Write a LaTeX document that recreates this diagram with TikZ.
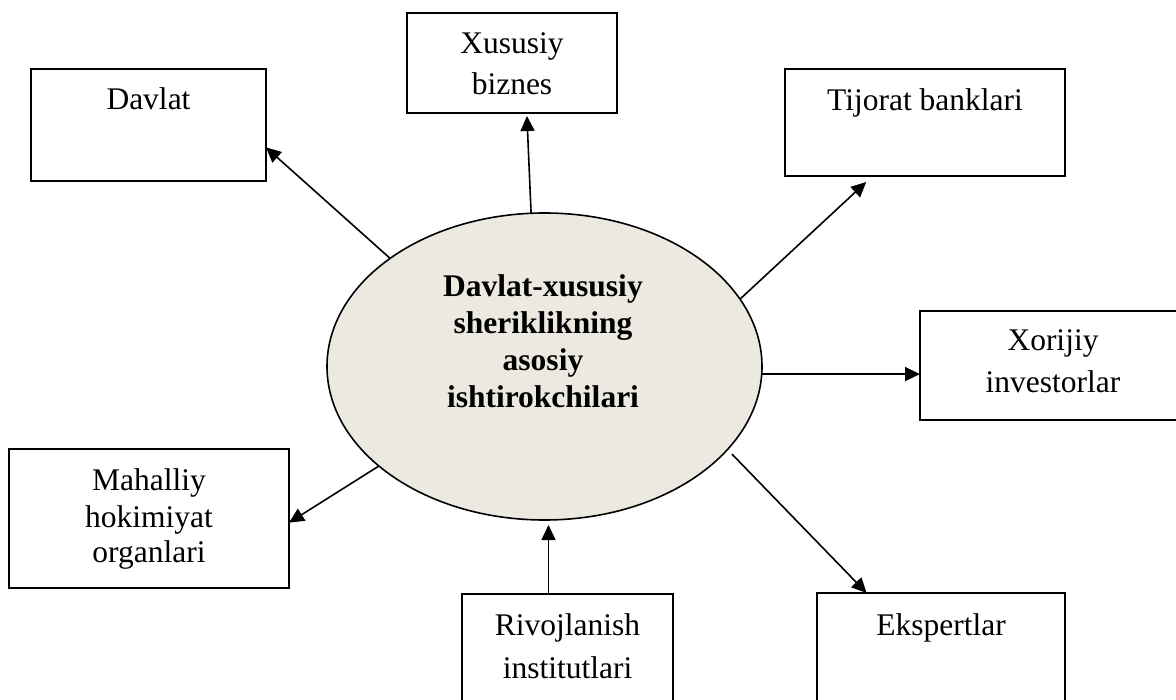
\documentclass[tikz,border=0pt]{standalone}
\usepackage{fontspec}
\setmainfont{Liberation Serif}
\usetikzlibrary{arrows.meta,calc,shapes.geometric}
\definecolor{ellfill}{RGB}{236,233,224}
\newcommand{\mylines}[1]{\begin{tabular}[t]{@{}c@{}}#1\end{tabular}}
\tikzset{
  box/.style={draw=black, line width=1.9pt, inner sep=0pt, outer sep=0pt, anchor=north west},
  lbl/.style={anchor=base, inner sep=0pt},
  arr/.style={draw=black, line width=1.6pt, -{Triangle[length=15pt,width=14pt]}},
}
\begin{document}
\begin{tikzpicture}[x=1pt,y=-1pt]
\useasboundingbox (0,0) rectangle (1176,700);
% boxes
\node[box, minimum width=235pt, minimum height=112pt] (davlat) at (31,69) {};
\node[box, minimum width=210pt, minimum height=100pt] (xus) at (407,13) {};
\node[box, minimum width=280pt, minimum height=107pt] (tij) at (785,69) {};
\node[box, minimum width=266pt, minimum height=109pt] (xor) at (920,311) {};
\node[box, minimum width=280pt, minimum height=139pt] (mah) at (9,449) {};
\node[box, minimum width=211pt, minimum height=130pt] (riv) at (462,594) {};
\node[box, minimum width=248pt, minimum height=130pt] (eks) at (817,593) {};
% ellipse
\node[ellipse, draw=black, line width=1.6pt, fill=ellfill, minimum width=435pt, minimum height=307pt, inner sep=0pt, outer sep=0pt] (ell) at (544.5,366.5) {};
% labels
\begin{scope}[font=\fontsize{31.5}{42}\selectfont]
\node[lbl] (davlatT) at (148.5,110) {Davlat};
\node[lbl, font=\fontsize{31.5}{41}\selectfont] (xusT) at (512,54) {\mylines{Xususiy\\biznes}};
\node[lbl] (tijT) at (925,111) {Tijorat banklari};
\node[lbl] (xorT) at (1053,351) {\mylines{Xorijiy\\investorlar}};
\node[lbl, font=\fontsize{31.5}{36}\selectfont] (mahT) at (149,491) {\mylines{Mahalliy\\hokimiyat\\organlari}};
\node[lbl, font=\fontsize{31.5}{43}\selectfont] (rivT) at (567.5,635) {\mylines{Rivojlanish\\institutlari}};
\node[lbl] (eksT) at (941,635) {Ekspertlar};
\node[lbl, font=\fontsize{31.5}{37}\selectfont\bfseries] (ellT) at (543,297) {\mylines{Davlat-xususiy\\sheriklikning\\asosiy\\ishtirokchilari}};
\end{scope}
% connectors
\coordinate (rstart) at ($(riv.north west)!0.41!(riv.north east)$);
\draw[arr] (ell.145.8) -- ($(davlat.north east)!0.70!(davlat.south east)$);
\draw[arr] (ell.95.9) -- ($(xus.south west)!0.571!(xus.south east)+(0,3)$);
\draw[arr] (ell.19.4) -- ($(tij.south west)!0.29!(tij.south east)+(0,6)$);
\draw[arr] (ell.-2.8) -- (ell.-2.8 -| xor.west);
\draw[arr] (ell.211.2) -- ($(mah.north east)!0.53!(mah.south east)$);
\draw[arr] (rstart) -- ($(rstart |- ell.south)+(0,5)$);
\draw[arr] ($(ell.-25)+(6,3)$) -- ($(eks.north west)!0.2!(eks.north east)$);
\end{tikzpicture}
\end{document}
